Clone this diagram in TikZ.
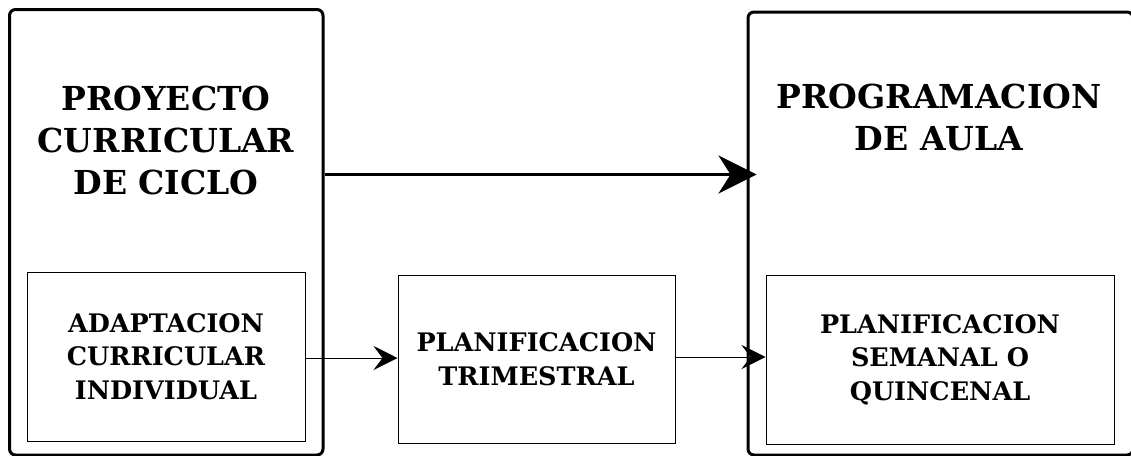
\documentclass[tikz,border=0pt]{standalone}
\usepackage{fontspec}
\newfontfamily\diagfont{DejaVu Serif}
\usetikzlibrary{arrows.meta}
\newcommand{\bigtitle}{\diagfont\bfseries\fontsize{33}{42}\selectfont}
\newcommand{\smalltitle}{\diagfont\bfseries\fontsize{25.5}{33.5}\selectfont}
\tikzset{
  outerbox/.style={draw, line width=3pt, rounded corners=6pt, inner sep=0pt},
  innerbox/.style={draw, line width=1pt, align=center, inner sep=0pt, font=\smalltitle},
  titletext/.style={align=center, font=\bigtitle},
  bigarrow/.style={line width=3pt, -{Stealth[length=38pt,width=38pt,inset=12pt]}},
  smallarrow/.style={line width=1pt, -{Stealth[length=24pt,width=24pt,inset=9pt]}}
}
\begin{document}
\begin{tikzpicture}[x=1pt,y=-1pt]
\useasboundingbox (0,0) rectangle (1131,455);
% the two big blocks
\node[outerbox, minimum width=313.5pt, minimum height=445.5pt] (pcc) at (166.25,232.25) {};
\node[outerbox, minimum width=385pt, minimum height=443pt] (aula) at (940.5,233.5) {};
\node[titletext] (pcctitle) at (166,140) {PROYECTO\\CURRICULAR\\DE CICLO};
\node[titletext] (aulatitle) at (939,117) {PROGRAMACION\\DE AULA};
% the small blocks
\node[innerbox, minimum width=278pt, minimum height=169pt] (aci) at (166,356.5) {ADAPTACION\\CURRICULAR\\INDIVIDUAL};
\node[innerbox, minimum width=277pt, minimum height=168pt] (trim) at (536.5,359) {PLANIFICACION\\TRIMESTRAL};
\node[innerbox, minimum width=348pt, minimum height=169pt] (quinc) at (940,359.5) {PLANIFICACION\\SEMANAL O\\QUINCENAL};
% arrows
\draw[bigarrow, shorten >=-10pt] ([yshift=57.75pt]pcc.east) -- ([yshift=57.75pt]pcc.east -| aula.west);
\draw[smallarrow] ([yshift=-1.5pt]aci.east) -- ([yshift=-1.5pt]aci.east -| trim.west);
\draw[smallarrow] ([yshift=2pt]trim.east) -- ([yshift=2pt]trim.east -| quinc.west);
\end{tikzpicture}
\end{document}
